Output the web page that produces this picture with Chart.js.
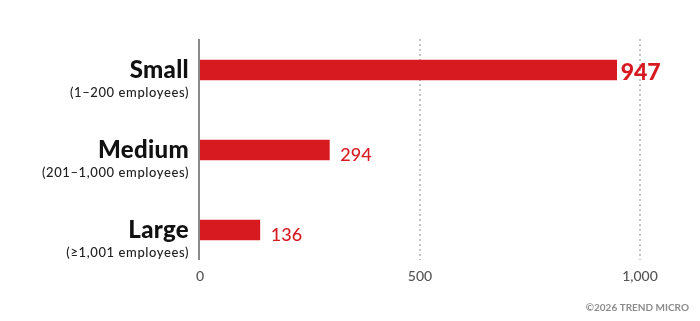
<!DOCTYPE html>
<html>
<head>
<meta charset="utf-8">
<script src="https://cdn.jsdelivr.net/npm/chart.js@4/dist/chart.umd.min.js"></script>
<style>
  html, body { margin: 0; padding: 0; background: #fff; }
  #wrap { position: relative; width: 700px; height: 321px; }
</style>
</head>
<body>
<div id="wrap"><canvas id="barChart"></canvas></div>
<script>
// company sizes and counts
const categories = ['Small', 'Medium', 'Large'];
const subLabels = ['(1\u2013200 employees)', '(201\u20131,000 employees)', '(\u22651,001 employees)'];
const counts = [947, 294, 136];
const xTicks = [0, 500, 1000];
const highlight = 0; // index of the bold value label
const footer = '\u00A92026 TREND MICRO';

const RED = '#d71920';
const FONT = 'Lato, "DejaVu Sans", sans-serif';

// draws the zero axis and dotted gridlines, shorter than the chart area
const gridPlugin = {
  id: 'customGrid',
  beforeDatasetsDraw(chart) {
    const ctx = chart.ctx;
    const x = chart.scales.x;
    const area = chart.chartArea;
    ctx.save();
    xTicks.forEach(v => {
      if (v === 0) return;
      const px = Math.round(x.getPixelForValue(v));
      ctx.strokeStyle = '#c4c4c4';
      ctx.lineWidth = 2;
      ctx.setLineDash([2, 3]);
      ctx.beginPath();
      ctx.moveTo(px, area.top + 9);
      ctx.lineTo(px, area.bottom - 10);
      ctx.stroke();
    });
    ctx.restore();
  },
  afterDatasetsDraw(chart) {
    const ctx = chart.ctx;
    const x = chart.scales.x;
    const area = chart.chartArea;
    const px = Math.round(x.getPixelForValue(0)) - 1;
    ctx.save();
    ctx.strokeStyle = '#8a8a8a';
    ctx.lineWidth = 2;
    ctx.beginPath();
    ctx.moveTo(px, area.top + 9);
    ctx.lineTo(px, area.bottom - 10);
    ctx.stroke();
    ctx.restore();
  }
};

// category names, subtitles, value labels and footer
const labelPlugin = {
  id: 'labels',
  afterDraw(chart) {
    const ctx = chart.ctx;
    const x = chart.scales.x;
    const y = chart.scales.y;
    ctx.save();
    categories.forEach((c, i) => {
      const cy = y.getPixelForValue(i);
      ctx.textAlign = 'right';
      ctx.textBaseline = 'alphabetic';
      ctx.fillStyle = '#111';
      ctx.letterSpacing = '0.3px';
      ctx.font = '900 24px ' + FONT;
      ctx.fillText(c, 189, cy + 8);
      ctx.letterSpacing = '0.6px';
      ctx.font = '500 13px ' + FONT;
      ctx.fillStyle = '#222';
      ctx.fillText(subLabels[i], 189, cy + 27);
      ctx.letterSpacing = '0px';

      const end = x.getPixelForValue(counts[i]);
      ctx.textAlign = 'left';
      ctx.fillStyle = RED;
      if (i === highlight) {
        ctx.font = '900 23px ' + FONT;
        ctx.fillText(counts[i], end + 4, cy + 10);
      } else {
        ctx.font = '500 18px ' + FONT;
        ctx.fillText(counts[i], end + 11, cy + 11);
      }
    });
    ctx.font = '700 10px ' + FONT;
    ctx.fillStyle = '#8c8c8c';
    ctx.textAlign = 'right';
    ctx.textBaseline = 'middle';
    ctx.fillText(footer, 689, 308);
    ctx.restore();
  }
};

document.addEventListener('DOMContentLoaded', function () {
  const ctx = document.getElementById('barChart');
  new Chart(ctx, {
    type: 'bar',
    data: {
      labels: categories,
      datasets: [{
        data: counts,
        backgroundColor: RED,
        borderWidth: 0,
        barThickness: 20
      }]
    },
    options: {
      indexAxis: 'y',
      responsive: true,
      maintainAspectRatio: false,
      animation: false,
      layout: { padding: { left: 200, right: 60, top: 30, bottom: 31 } },
      plugins: {
        legend: { display: false },
        tooltip: { enabled: false }
      },
      scales: {
        x: {
          min: 0,
          max: 1000,
          afterBuildTicks: scale => { scale.ticks = xTicks.map(v => ({ value: v })); },
          afterFit: scale => { scale.height = 20; },
          grid: { display: false, drawTicks: false },
          border: { display: false },
          ticks: {
            padding: -2,
            color: '#555',
            font: { family: FONT, size: 14, weight: '500' },
            callback: v => v.toLocaleString('en-US')
          }
        },
        y: {
          display: false
        }
      }
    },
    plugins: [gridPlugin, labelPlugin]
  });
});
</script>
</body>
</html>
